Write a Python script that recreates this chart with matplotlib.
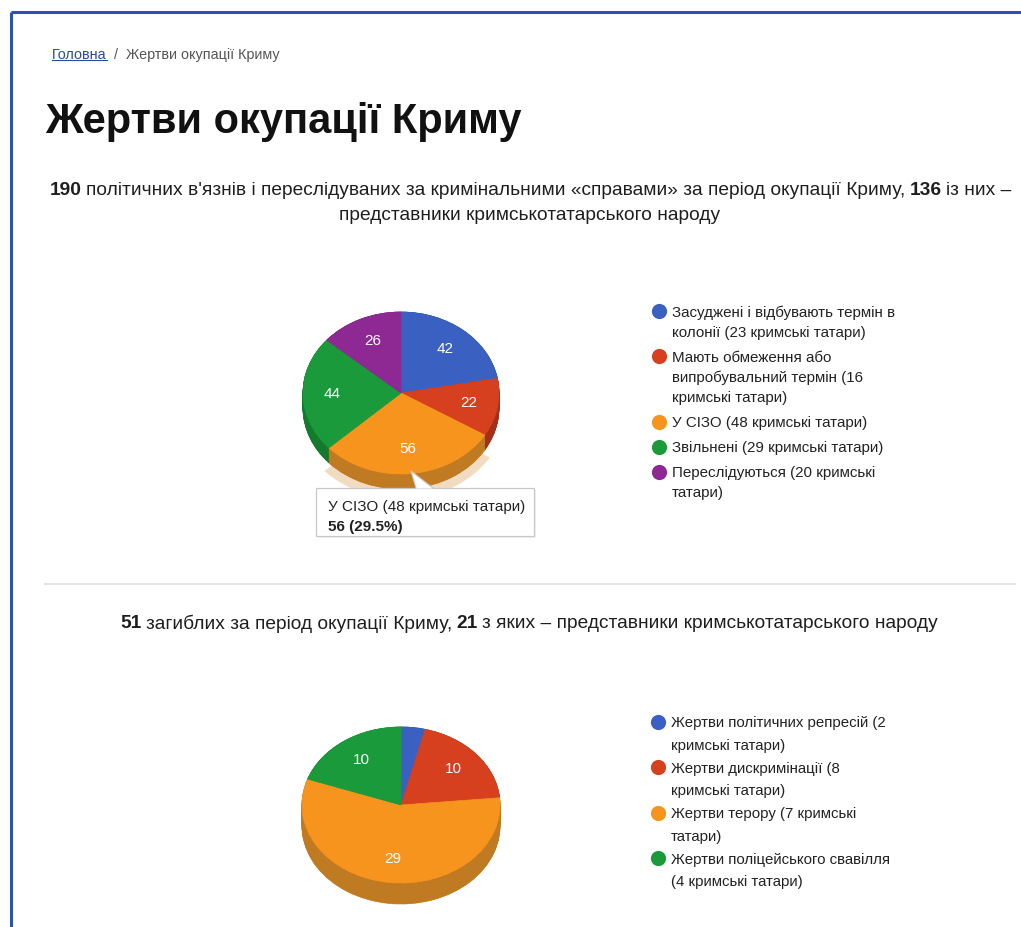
import numpy as np
import matplotlib
matplotlib.use('Agg')
import matplotlib.pyplot as plt
from matplotlib.patches import Polygon, Rectangle

plt.rcParams['font.family'] = ['Liberation Sans', 'DejaVu Sans']

W, H = 1021, 927

# DATA #
crumb_home = 'Головна'
crumb_rest = '/  Жертви окупації Криму'
page_title = 'Жертви окупації Криму'

title1_runs = [('190', True),
               ("політичних в'язнів і переслідуваних за кримінальними «справами» за період окупації Криму,", False),
               ('136', True), ('із них –', False)]
title1_line2 = 'представники кримськотатарського народу'
title2_runs = [('51', True), ('загиблих за період окупації Криму,', False),
               ('21', True), ('з яких – представники кримськотатарського народу', False)]

prisoners_labels = ['Засуджені і відбувають термін в\nколонії (23 кримські татари)',
                    'Мають обмеження або\nвипробувальний термін (16\nкримські татари)',
                    'У СІЗО (48 кримські татари)',
                    'Звільнені (29 кримські татари)',
                    'Переслідуються (20 кримські\nтатари)']
prisoners_values = [42, 22, 56, 44, 26]

dead_labels = ['Жертви політичних репресій (2\nкримські татари)',
               'Жертви дискримінації (8\nкримські татари)',
               'Жертви терору (7 кримські\nтатари)',
               'Жертви поліцейського свавілля\n(4 кримські татари)']
dead_values = [2, 10, 29, 10]

tooltip_name = 'У СІЗО (48 кримські татари)'
tooltip_value = '56 (29.5%)'

top_colors = ['#3a60c2', '#d6401f', '#f7941e', '#1a9a3a', '#8e2893']
side_colors = ['#2b4894', '#a3301a', '#c07a22', '#147a2c', '#6c1e70']


fig = plt.figure(figsize=(W / 100, H / 100), dpi=100, facecolor='white')
renderer = fig.canvas.get_renderer()

# page background axes in pixel coords
bg = fig.add_axes([0, 0, 1, 1])
bg.set_xlim(0, W)
bg.set_ylim(H, 0)
bg.axis('off')

# page border
bg.plot([11, W], [11.5, 11.5], color='#2c52ad', lw=2.2, solid_capstyle='butt')
bg.plot([11, 11], [11.5, H], color='#2c52ad', lw=2.2, solid_capstyle='butt')


def width_of(t):
    return t.get_window_extent(renderer).width


def draw_runs(ax, xc, y, runs, size):
    probe = ax.text(0, 0, 'x x', fontsize=size)
    probe2 = ax.text(0, 0, 'xx', fontsize=size)
    gap = (width_of(probe) - width_of(probe2)) * 0.8
    probe.remove()
    probe2.remove()
    texts = [ax.text(0, y, s, fontsize=size, fontweight='bold' if b else 'normal',
                     va='center_baseline', ha='left', color='#1e1e1e') for s, b in runs]
    widths = [width_of(t) for t in texts]
    x = xc - (sum(widths) + gap * (len(texts) - 1)) / 2
    for t, w in zip(texts, widths):
        t.set_x(x)
        x += w + gap


# breadcrumb
home = bg.text(52, 53, crumb_home, fontsize=10.4, color='#2a4aa0', va='center_baseline')
hw = width_of(home)
bg.plot([52, 52 + hw], [60, 60], color='#2a4aa0', lw=0.8)
bg.text(52 + hw + 7, 53, crumb_rest, fontsize=10.4, color='#555555', va='center_baseline')

# heading
bg.text(45, 133, page_title, fontsize=30, fontweight='bold', color='#111111', va='baseline')

draw_runs(bg, 531, 188, title1_runs, 13.8)
bg.text(530, 213, title1_line2, fontsize=13.8, color='#1e1e1e', ha='center', va='center_baseline')

bg.plot([45, 1015], [584, 584], color='#e3e3e3', lw=1.5)
draw_runs(bg, 529, 622, title2_runs, 13.8)


def legend(ax, x, y0, labels, colors, line_h, gap, size):
    y = y0
    for lab, c in zip(labels, colors):
        ax.scatter([x], [y], s=120, color=c, zorder=3, linewidths=0)
        lines = lab.split('\n')
        for i, ln in enumerate(lines):
            ax.text(x + 13, y + i * line_h, ln, fontsize=size, color='#222222', va='center_baseline')
        y += len(lines) * line_h + gap


legend(bg, 659, 311, prisoners_labels, top_colors, 20.2, 4.8, 10.9)
legend(bg, 658, 722, dead_labels, top_colors, 22.4, 0.6, 10.8)


def pie3d(cx, cy, rx, ry, depth, values, hover=None):
    d = depth / ry
    px, ptop, pbot = 1.3, 1.3, 1.3 + d
    ax = fig.add_axes([(cx - px * rx) / W, 1 - (cy + pbot * ry) / H,
                       2 * px * rx / W, (ptop + pbot) * ry / H])
    n = len(values)
    total = sum(values)
    kw = dict(startangle=90, counterclock=False)
    if hover is not None:
        halo = ['none'] * n
        halo[hover] = '#f1dcc1'
        ax.pie(values, colors=halo, radius=1.06, center=(0, -d - 0.06),
               wedgeprops=dict(linewidth=0), **kw)
    for k in np.linspace(d, 0.0, 30):
        wedges, _ = ax.pie(values, colors=side_colors[:n], center=(0, -k),
                           wedgeprops=dict(linewidth=0.5), **kw)
        for w in wedges:
            w.set_edgecolor(w.get_facecolor())
    wedges, _, autotexts = ax.pie(
        values, colors=top_colors[:n], pctdistance=0.7,
        autopct=lambda p: f'{p * total / 100:.0f}' if p >= 5 else '',
        textprops=dict(color='white', fontsize=11), wedgeprops=dict(linewidth=0.5), **kw)
    for w in wedges:
        w.set_edgecolor(w.get_facecolor())
    ax.set_aspect('auto')
    ax.set_xlim(-px, px)
    ax.set_ylim(-pbot, ptop)
    ax.axis('off')
    return ax


pie3d(401, 393, 98, 81, 15, prisoners_values, hover=2)
pie3d(401, 805, 99, 78, 21, dead_values)

# tooltip on top
top = fig.add_axes([0, 0, 1, 1], facecolor='none')
top.set_xlim(0, W)
top.set_ylim(H, 0)
top.axis('off')
top.add_patch(Rectangle((318, 490), 218, 48, facecolor='#f2f2f2', edgecolor='none'))
top.add_patch(Rectangle((316, 488), 218, 48, facecolor='white', edgecolor='#c8c8c8', lw=0.9))
top.add_patch(Polygon([(411, 471), (416, 488.5), (433, 488.5)], closed=True,
                      facecolor='white', edgecolor='none'))
top.plot([416, 411, 433], [488, 471, 488], color='#c8c8c8', lw=0.8)
top.text(328, 506, tooltip_name, fontsize=11, color='#222222', va='center_baseline')
top.text(328, 526, tooltip_value, fontsize=11, fontweight='bold', color='#222222', va='center_baseline')

fig.savefig('out.png', dpi=100, facecolor='white')
